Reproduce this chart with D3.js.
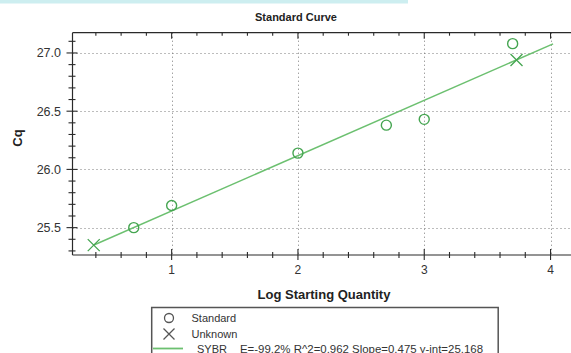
<!DOCTYPE html>
<html>
<head>
<meta charset="utf-8">
<script src="https://cdn.jsdelivr.net/npm/d3@7"></script>
<style>
  html, body { margin: 0; padding: 0; background: #fff; }
  svg { display: block; font-family: "Liberation Sans", Arial, sans-serif; }
</style>
</head>
<body>
<svg id="chart" width="571" height="353"></svg>
<script>
// Standard curve data (log starting quantity vs Cq)
const standardLogQty = [0.7, 1.0, 2.0, 2.7, 3.0, 3.7];
const standardCq     = [25.50, 25.69, 26.14, 26.38, 26.43, 27.08];
const unknownCq      = [25.35, 26.94];
const fitSlope = 0.475;
const fitIntercept = 25.168;
const fitRange = [0.38, 4.02];
const xMajorTicks = [1, 2, 3, 4];
const yMajorTicks = [25.5, 26.0, 26.5, 27.0];
const legendItems = ["Standard", "Unknown"];
const seriesName = "SYBR";
const fitText = "E=-99.2% R^2=0.962 Slope=0.475 y-int=25.168";

const svg = d3.select("#chart");
const markColor = "#45a551";
const lineColor = "#6cc070";
const axisColor = "#2a2a2a";

// header strip
svg.append("rect").attr("x", 0).attr("y", 0).attr("width", 408).attr("height", 3.5)
  .attr("fill", "#cdeef0");

const x = d3.scaleLinear().domain([0.215, 4.2]).range([72.5, 575.8]);
const y = d3.scaleLinear().domain([25.265, 27.174]).range([255, 32.7]);

const [x0, x1] = x.range();
const [yb, yt] = y.range();

// dotted grid
const grid = svg.append("g").attr("stroke", "#7a7a7a").attr("stroke-width", 1)
  .attr("stroke-dasharray", "1,3");
grid.selectAll("line.h").data(yMajorTicks).join("line").attr("class", "h")
  .attr("x1", x0).attr("x2", x1).attr("y1", d => Math.round(y(d)) + 0.5).attr("y2", d => Math.round(y(d)) + 0.5);
grid.selectAll("line.v").data(xMajorTicks).join("line").attr("class", "v")
  .attr("x1", d => Math.round(x(d)) + 0.5).attr("x2", d => Math.round(x(d)) + 0.5).attr("y1", yt).attr("y2", yb);

// frame
const frame = svg.append("g").attr("stroke", axisColor).attr("stroke-width", 1.2).attr("fill", "none");
frame.append("line").attr("x1", x0).attr("x2", x1).attr("y1", yb).attr("y2", yb);
frame.append("line").attr("x1", x0).attr("x2", x1).attr("y1", yt).attr("y2", yt);
frame.append("line").attr("x1", x0).attr("x2", x0).attr("y1", yt).attr("y2", yb);

// x ticks every 0.2
const xMinor = d3.range(0.4, 4.21, 0.2).map(v => +v.toFixed(1));
const isMajorX = v => Math.abs(v - Math.round(v)) < 1e-6;
const tk = svg.append("g").attr("stroke", axisColor).attr("stroke-width", 1.1);
xMinor.forEach(v => {
  const px = x(v), maj = isMajorX(v);
  tk.append("line").attr("x1", px).attr("x2", px).attr("y1", yb - (maj ? 6 : 3)).attr("y2", yb + (maj ? 5 : 3));
  tk.append("line").attr("x1", px).attr("x2", px).attr("y1", yt).attr("y2", yt + (maj ? 6 : 3));
});

// y ticks every 0.1
const yMinor = d3.range(25.3, 27.18, 0.1).map(v => +v.toFixed(1));
const isMajorY = v => Math.abs(v * 2 - Math.round(v * 2)) < 1e-6;
yMinor.forEach(v => {
  const py = y(v), maj = isMajorY(v);
  tk.append("line").attr("x1", x0 - (maj ? 6 : 4)).attr("x2", x0 + (maj ? 5 : 3)).attr("y1", py).attr("y2", py);
});

// tick labels
svg.append("g").selectAll("text").data(xMajorTicks).join("text")
  .attr("x", d => x(d)).attr("y", 274).attr("text-anchor", "middle")
  .attr("font-size", 12).attr("fill", "#333").text(d => d);
svg.append("g").selectAll("text").data(yMajorTicks).join("text")
  .attr("x", 61).attr("y", d => y(d) + 4.5).attr("text-anchor", "end")
  .attr("font-size", 12.5).attr("fill", "#333").text(d => d3.format(".1f")(d));

// titles
svg.append("text").attr("x", 296).attr("y", 21).attr("text-anchor", "middle")
  .attr("font-size", 11).attr("font-weight", "bold").attr("fill", "#222").text("Standard Curve");
svg.append("text").attr("x", 324).attr("y", 299).attr("text-anchor", "middle")
  .attr("font-size", 13).attr("font-weight", "bold").attr("fill", "#222").text("Log Starting Quantity");
svg.append("text").attr("transform", "translate(22,138) rotate(-90)").attr("text-anchor", "middle")
  .attr("font-size", 13).attr("font-weight", "bold").attr("fill", "#222").text("Cq");

// fit line
svg.append("line")
  .attr("x1", x(fitRange[0])).attr("y1", y(fitSlope * fitRange[0] + fitIntercept))
  .attr("x2", x(fitRange[1])).attr("y2", y(fitSlope * fitRange[1] + fitIntercept))
  .attr("stroke", lineColor).attr("stroke-width", 1.5);

// standards
svg.append("g").selectAll("circle").data(standardLogQty).join("circle")
  .attr("cx", d => x(d)).attr("cy", (d, i) => y(standardCq[i])).attr("r", 5)
  .attr("fill", "none").attr("stroke", markColor).attr("stroke-width", 1.4);

// unknowns placed on the fit line
const xMark = (g, cx, cy, s, color) => {
  g.append("path").attr("d", `M${cx - s},${cy - s}L${cx + s},${cy + s}M${cx - s},${cy + s}L${cx + s},${cy - s}`)
    .attr("stroke", color).attr("stroke-width", 1.3).attr("fill", "none");
};
const ug = svg.append("g");
unknownCq.forEach(cq => {
  const lq = (cq - fitIntercept) / fitSlope;
  xMark(ug, x(lq), y(cq), 6, markColor);
});

// legend
const lg = svg.append("g");
lg.append("rect").attr("x", 151.7).attr("y", 307.5).attr("width", 346.5).attr("height", 60)
  .attr("fill", "#fff").attr("stroke", "#555").attr("stroke-width", 1.5);
lg.append("circle").attr("cx", 169).attr("cy", 318).attr("r", 4.5)
  .attr("fill", "none").attr("stroke", "#555").attr("stroke-width", 1.3);
xMark(lg, 169, 334, 5.5, "#555");
lg.append("line").attr("x1", 153).attr("x2", 183).attr("y1", 348.5).attr("y2", 348.5)
  .attr("stroke", lineColor).attr("stroke-width", 1.8);
lg.selectAll("text.item").data(legendItems).join("text").attr("class", "item")
  .attr("x", 191.5).attr("y", (d, i) => 321.5 + i * 16)
  .attr("font-size", 11).attr("fill", "#333").text(d => d);
lg.append("text").attr("x", 197).attr("y", 352.5).attr("font-size", 11).attr("fill", "#333").text(seriesName);
lg.append("text").attr("x", 240).attr("y", 352.5).attr("font-size", 11).attr("fill", "#333")
  .attr("textLength", 243).attr("lengthAdjust", "spacingAndGlyphs").text(fitText);
</script>
</body>
</html>
